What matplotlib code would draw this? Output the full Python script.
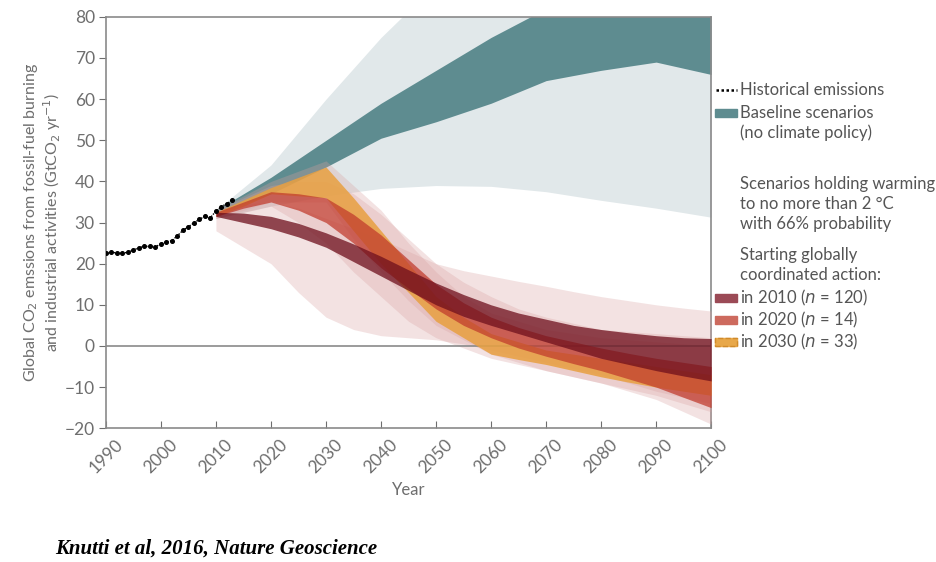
import numpy as np
import matplotlib
matplotlib.use("Agg")
import matplotlib.pyplot as plt
from matplotlib.patches import Rectangle
from matplotlib.lines import Line2D

plt.rcParams['font.family'] = ['Lato', 'DejaVu Sans']

# historical emissions 1990-2013
anos_hist = list(range(1990, 2014))
hist = [22.5, 22.8, 22.6, 22.5, 22.8, 23.3, 23.9, 24.2, 24.2, 24.1, 24.8, 25.3,
        25.6, 26.8, 28.1, 29.0, 29.9, 30.8, 31.5, 31.2, 32.8, 33.9, 34.6, 35.4]

# baseline scenarios
anos_base = [2010, 2020, 2030, 2040, 2050, 2060, 2070, 2080, 2090, 2100]
base_iqr_lo = [32, 37, 43.5, 50.5, 54.5, 59, 64.5, 67, 69, 66]
base_iqr_hi = [33, 41, 50, 59, 67, 75, 82, 86, 90, 92]
base_rng_lo = [31, 34, 36.5, 38.3, 39, 38.8, 37.5, 35.4, 33.5, 31.3]
base_rng_hi = [33, 44, 60, 75, 88, 95, 100, 100, 100, 100]

# 2 degC scenarios (5-year steps)
anos_red = list(range(2010, 2101, 5))

# action starting in 2010
r2010_rng_hi = [33, 34.5, 35, 33.5, 31, 28.5, 26, 23, 20, 18.3, 17, 15.7, 14.5, 13.2, 12, 11, 10, 9.2, 8.5]
r2010_rng_lo = [28, 24, 20, 13, 7, 4, 2.5, 2, 1.5, 0.5, -1, -2.5, -4, -5.5, -7, -9, -11, -12.5, -14]
r2010_iqr_hi = [32.5, 32.3, 31.5, 29.8, 27.5, 24.8, 21.8, 18.5, 15.3, 12.5, 10, 8, 6.5, 5, 4, 3.2, 2.5, 2, 1.8]
r2010_iqr_lo = [31.5, 30, 28.5, 26.5, 24, 20.5, 17, 13.5, 10, 7.2, 5, 3, 1, -1, -3, -4.5, -6, -7.3, -8.5]

# action starting in 2020
r2020_rng_hi = [33, 36, 39, 40, 40, 37, 32, 26, 20, 15.5, 12, 9, 7, 5.5, 4, 3.5, 3, 2.5, 2]
r2020_rng_lo = [31, 32.5, 34, 30, 25, 18, 12, 6, 2, -0.5, -3, -4.5, -6, -7.5, -9, -11, -13, -16, -19]
r2020_iqr_hi = [32.5, 35, 37.5, 37, 36, 32, 27, 21, 15, 10.5, 7, 4.5, 2.5, 1, -0.5, -1.8, -3, -4, -5]
r2020_iqr_lo = [31.5, 33.5, 35, 33, 30, 25, 19, 14, 9, 5, 2, -0.5, -2.5, -4.3, -6, -8, -10, -12.5, -15]

# action starting in 2030
r2030_rng_hi = [33, 36.5, 40, 42.5, 45, 39, 33, 25, 18, 12, 8, 6, 4, 3, 2, 1.5, 1, 0.5, 0]
r2030_rng_lo = [31, 33, 35, 35, 35, 26, 18, 11, 5, 1.5, -2, -4, -6, -7.5, -9, -10.5, -12, -14, -16]
r2030_iqr_hi = [32.5, 35.5, 38.5, 41, 43.5, 36, 28, 20, 12, 7, 3, 1, -1, -2, -3, -4, -5, -6, -7]
r2030_iqr_lo = [31.5, 34, 37, 36.5, 36, 28, 20, 13, 6, 2, -2, -3.3, -4.5, -6, -7.5, -8.8, -10, -11, -12]

fig = plt.figure(figsize=(9.37, 5.62), dpi=100)
ax = fig.add_axes([0.113, 0.238, 0.646, 0.732])

cinza = '#6e6e6e'
texto = '#555555'
teal_claro = '#e1e8ea'
teal = '#5e8c90'
rosa = '#d9a0a0'

ax.fill_between(anos_base, base_rng_lo, base_rng_hi, color=teal_claro, lw=0, zorder=1)
ax.fill_between(anos_base, base_iqr_lo, base_iqr_hi, color=teal, lw=0, zorder=2)

for lo, hi in [(r2010_rng_lo, r2010_rng_hi), (r2020_rng_lo, r2020_rng_hi),
               (r2030_rng_lo, r2030_rng_hi)]:
    ax.fill_between(anos_red, lo, hi, color=rosa, alpha=0.3, lw=0, zorder=3)

ax.axhline(0, color='#8a8a8a', lw=1.2, zorder=3.5)

ax.fill_between(anos_red, r2030_iqr_lo, r2030_iqr_hi, color='#e8a040', alpha=0.85, lw=0, zorder=4)
ax.fill_between(anos_red, r2020_iqr_lo, r2020_iqr_hi, color='#c0392b', alpha=0.72, lw=0, zorder=5)
ax.fill_between(anos_red, r2010_iqr_lo, r2010_iqr_hi, color='#6e0f1c', alpha=0.75, lw=0, zorder=6)

ax.plot(anos_hist, hist, color='black', lw=1, ls=(0, (1, 1)), marker='o', ms=2.6, zorder=8)

ax.set_xlim(1990, 2100)
ax.set_ylim(-20, 80)
ax.set_xticks(range(1990, 2101, 10))
ax.set_yticks(range(-20, 81, 10))
ax.set_yticklabels([str(v).replace('-', '\u2212') for v in range(-20, 81, 10)])
for lbl in ax.get_xticklabels():
    lbl.set_rotation(45)
    lbl.set_ha('center')
    lbl.set_va('top')
ax.tick_params(axis='x', direction='in', length=5, color=cinza, labelcolor=cinza,
               labelsize=12.5, pad=6)
ax.tick_params(axis='y', direction='out', length=5, color=cinza, labelcolor=cinza,
               labelsize=12.5, pad=3)
for s in ax.spines.values():
    s.set_color('#8a8a8a')
    s.set_linewidth(1.2)

ax.set_xlabel("Year", color=cinza, fontsize=12, labelpad=4)
ax.set_ylabel("Global CO$_2$ emssions from fossil-fuel burning\nand industrial activities (GtCO$_2$ yr$^{-1}$)",
              color=cinza, fontsize=11.5, labelpad=1, linespacing=1.1)

# legenda manual
def fx(px):
    return px / 937

def fy(py):
    return 1 - py / 562

tx = fx(740)
fs = 12
fig.add_artist(Line2D([fx(716), fx(737)], [fy(90), fy(90)], color='black', lw=1.8,
                      ls=(0, (1, 1)), transform=fig.transFigure))
fig.text(tx, fy(90), "Historical emissions", color=texto, fontsize=fs, va='center')
fig.add_artist(Rectangle((fx(715), fy(117)), fx(22), 8 / 562, color=teal,
                         transform=fig.transFigure))
fig.text(tx, fy(113), "Baseline scenarios", color=texto, fontsize=fs, va='center')
fig.text(tx, fy(133), "(no climate policy)", color=texto, fontsize=fs, va='center')
fig.text(tx, fy(184), "Scenarios holding warming", color=texto, fontsize=fs, va='center')
fig.text(tx, fy(204), "to no more than 2 \u00b0C", color=texto, fontsize=fs, va='center')
fig.text(tx, fy(224), "with 66% probability", color=texto, fontsize=fs, va='center')
fig.text(tx, fy(255), "Starting globally", color=texto, fontsize=fs, va='center')
fig.text(tx, fy(275), "coordinated action:", color=texto, fontsize=fs, va='center')

cores_leg = ['#9b4a56', '#cd6a5e', '#e8a84a']
textos_leg = ["in 2010 ($n$ = 120)", "in 2020 ($n$ = 14)", "in 2030 ($n$ = 33)"]
for i, (c, t) in enumerate(zip(cores_leg, textos_leg)):
    py = 298 + i * 22
    fig.add_artist(Rectangle((fx(715), fy(py + 4)), fx(22), 8 / 562, color=c,
                             transform=fig.transFigure))
    fig.text(tx, fy(py), t, color=texto, fontsize=fs, va='center')
# borda tracejada do patch 2030
fig.add_artist(Rectangle((fx(715), fy(346)), fx(22), 8 / 562, facecolor='none',
                         edgecolor='#d08a2a', ls='--', lw=1, transform=fig.transFigure))

fig.text(fx(55), fy(549), "Knutti et al, 2016, Nature Geoscience", family='Liberation Serif',
         style='italic', weight='bold', fontsize=15, va='center')

plt.savefig("out.png", dpi=100)
